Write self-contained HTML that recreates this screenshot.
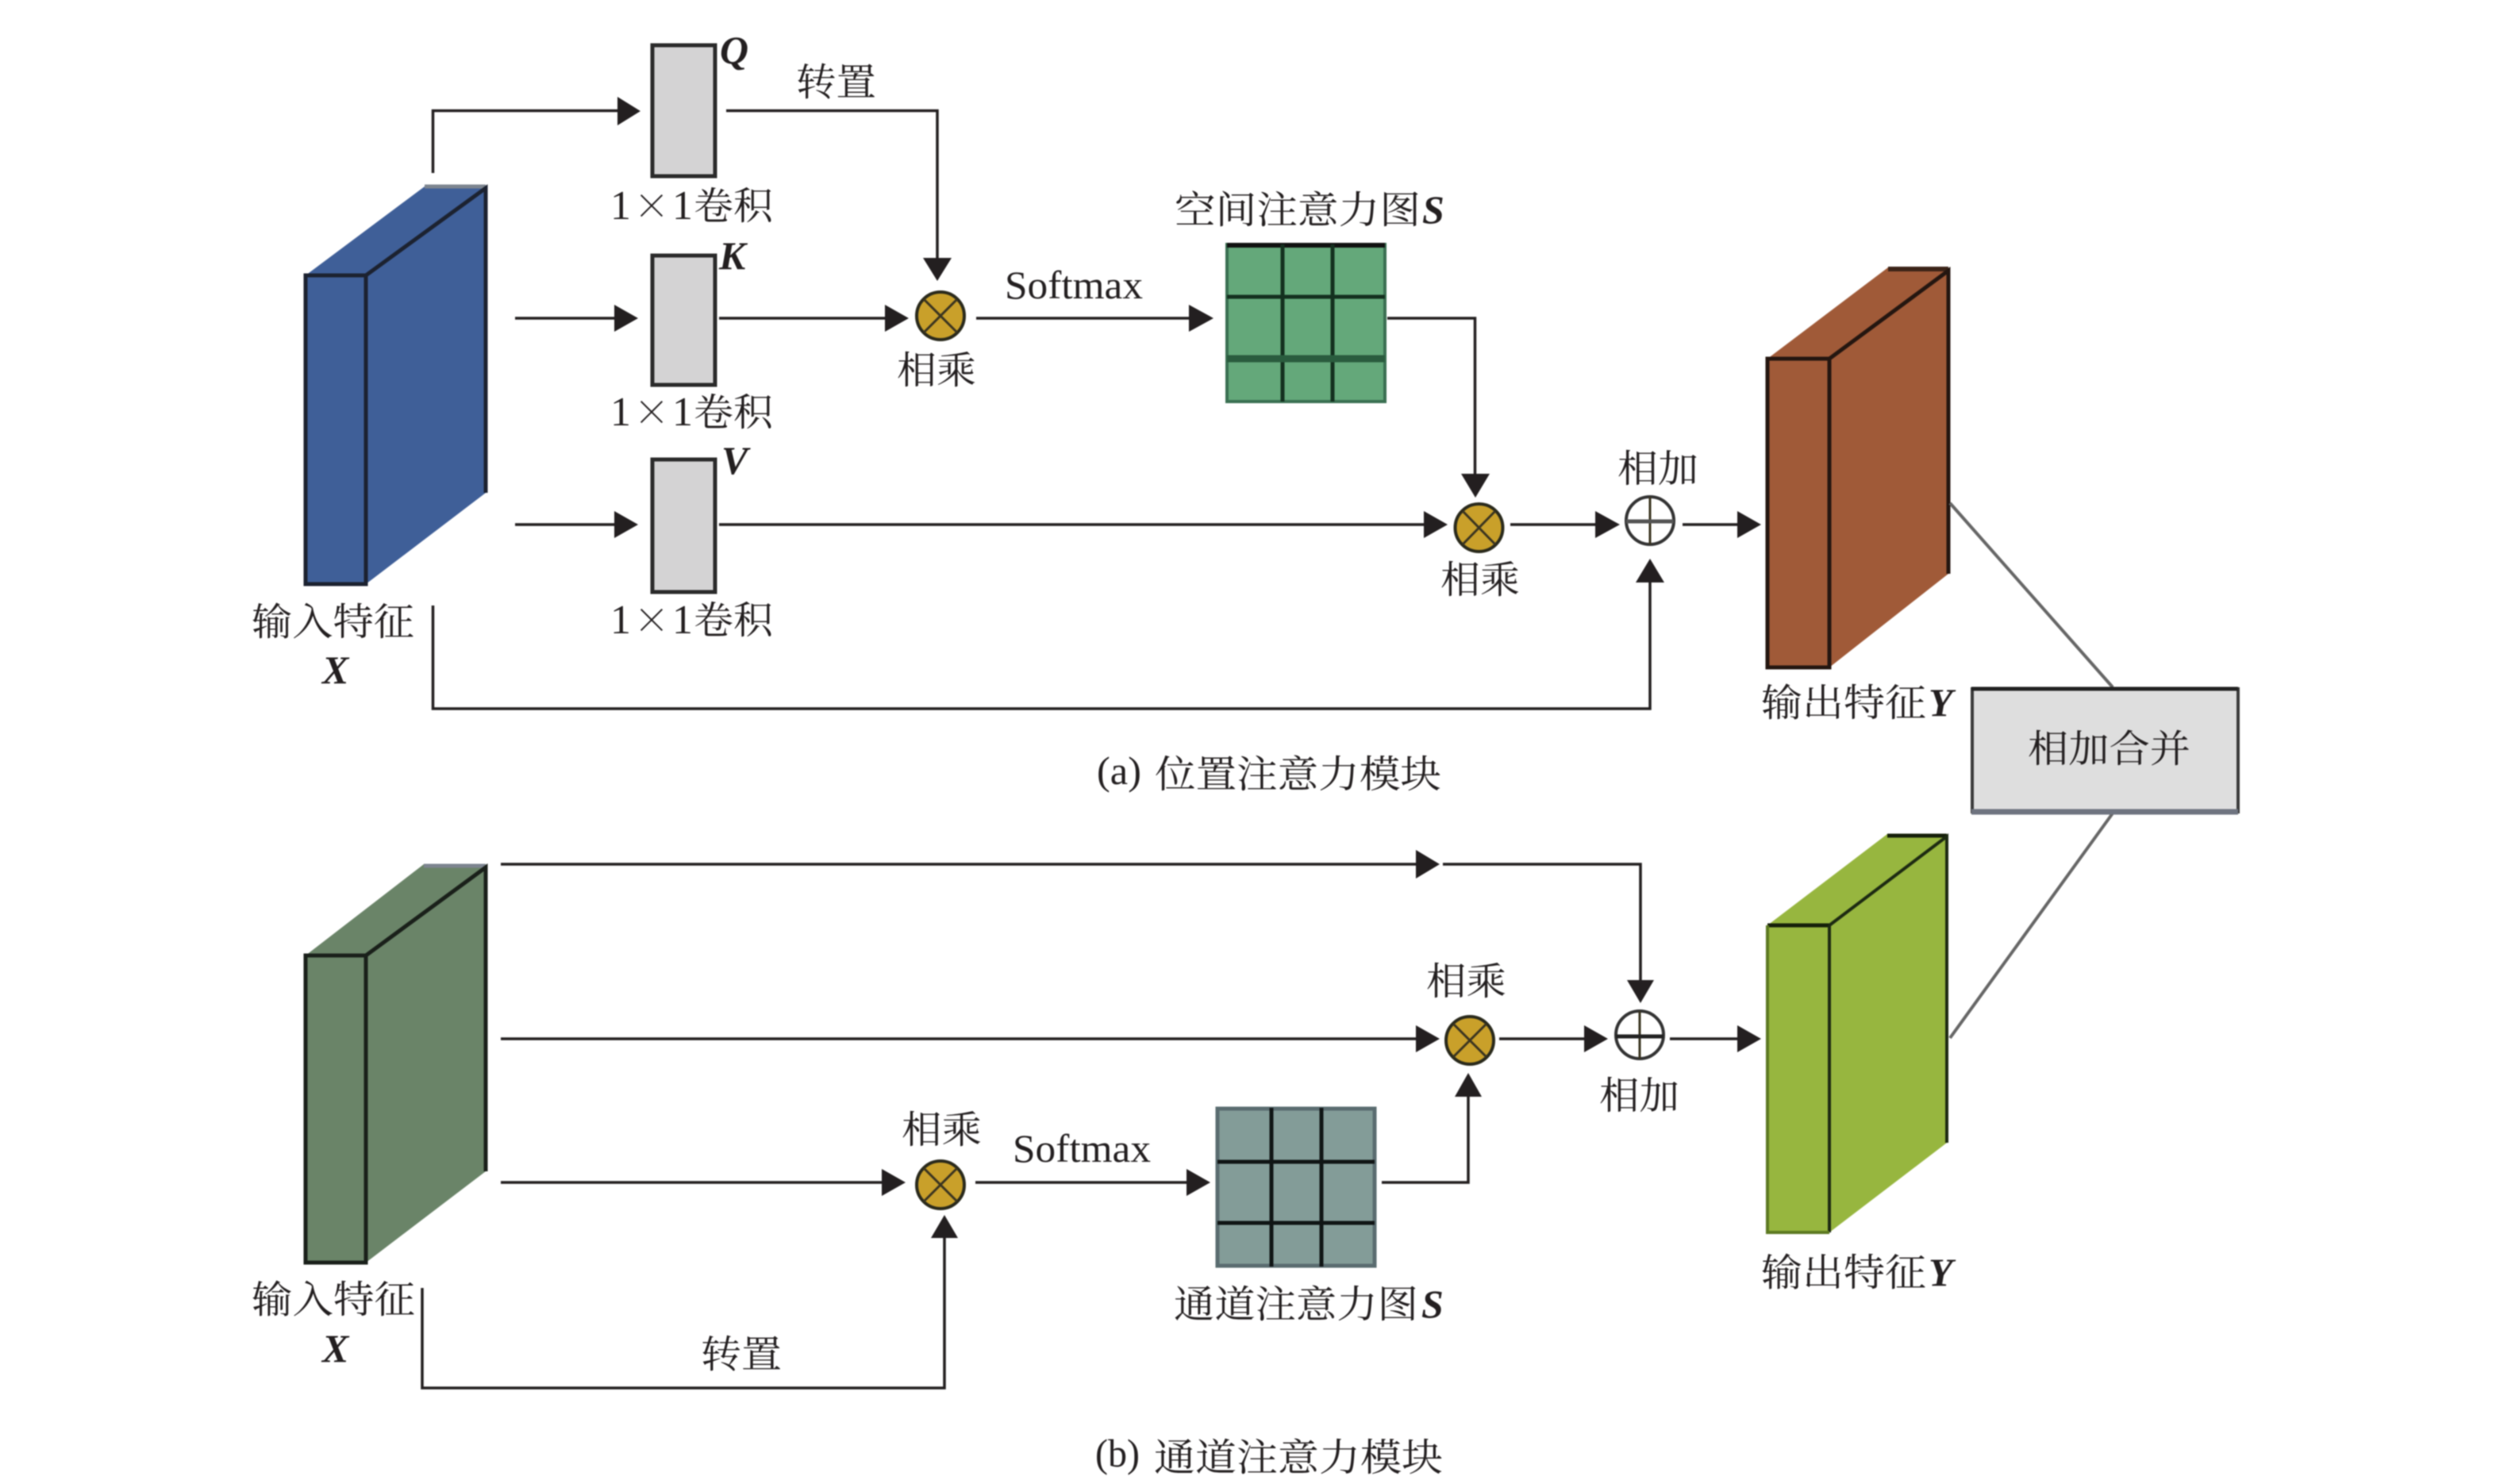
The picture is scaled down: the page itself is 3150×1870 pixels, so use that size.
<!DOCTYPE html>
<html lang="zh">
<head>
<meta charset="utf-8">
<title>注意力模块</title>
<style>
html,body{margin:0;padding:0;background:#fff;width:3150px;height:1870px;overflow:hidden}
svg{display:block;filter:blur(0.7px)}
text{font-family:"Liberation Serif","Noto Serif CJK SC",serif;font-size:48px;fill:#231f20}
.v{font-weight:bold;font-style:italic;font-size:50px}
.c{font-family:"Noto Serif CJK SC",serif;font-size:46px;text-anchor:middle}
.n{font-size:52px}
.l{fill:none;stroke:#231f20;stroke-width:3.5}
.a{fill:#231f20;stroke:none}
.g{fill:#d4d3d4;stroke:#2b2b2b;stroke-width:5}
.m{fill:#c9a02a;stroke:#2a2a1c;stroke-width:4}
.x{stroke:#3a3420;stroke-width:3;fill:none}
.p{fill:#fff;stroke:#333;stroke-width:4}
.d{stroke:#1c2230;stroke-width:5;fill:none}
</style>
</head>
<body>
<svg xmlns="http://www.w3.org/2000/svg" width="3150" height="1870" viewBox="0 0 3150 1870">
<rect width="3150" height="1870" fill="#fff"/>

<!-- Blue box -->
<polygon fill="#3f5f98" points="385,347 535,235 612,235 612,621 461,736 385,736"/>
<path d="M535,235H612" stroke="#7d8590" stroke-width="5"/>
<path class="d" d="M385,347H461V736H385ZM461,347L612,237V621"/>
<!-- Q K V -->
<rect class="g" x="822" y="57" width="79" height="165"/>
<rect class="g" x="822" y="322" width="79" height="163"/>
<rect class="g" x="822" y="579" width="79" height="167"/>

<!-- Module a connectors -->
<path class="l" d="M545.5,218V139.5H780"/>
<polygon class="a" points="778,122 807,140 778,158"/>
<path class="l" d="M915,139.5H1181V328"/>
<polygon class="a" points="1163,325 1199,325 1181,354"/>
<path class="l" d="M649,401H776"/>
<polygon class="a" points="774,384 804,401 774,418"/>
<path class="l" d="M906,401H1117"/>
<polygon class="a" points="1115,384 1145,401 1115,418"/>
<ellipse class="m" cx="1185" cy="398" rx="30" ry="30"/>
<path class="x" d="M1164,377L1206,419M1206,377L1164,419"/>
<path class="l" d="M1230,401H1500"/>
<polygon class="a" points="1498,384 1529,401 1498,418"/>

<!-- Green grid -->
<rect x="1546" y="308" width="199" height="198" fill="#64a87a" stroke="#3a7052" stroke-width="4"/>
<path d="M1546,309H1745" stroke="#111" stroke-width="6"/>
<path d="M1546,374H1745M1616,308V506M1679,308V506" stroke="#14301f" stroke-width="5"/>
<path d="M1546,452H1745" stroke="#2a5c3e" stroke-width="9"/>
<path class="l" d="M1748,401H1858.5V600"/>
<polygon class="a" points="1841,597 1877,597 1859,627"/>
<path class="l" d="M649,661H776"/>
<polygon class="a" points="774,644 804,661 774,678"/>
<path class="l" d="M906,661H1796"/>
<polygon class="a" points="1794,644 1824,661 1794,678"/>
<ellipse class="m" cx="1863.5" cy="665" rx="30" ry="30"/>
<path class="x" d="M1843,644L1884,686M1884,644L1843,686"/>
<path class="l" d="M1903,661H2012"/>
<polygon class="a" points="2010,644 2041,661 2010,678"/>
<ellipse class="p" cx="2079" cy="656" rx="30" ry="30"/>
<path class="x" d="M2079,626V686"/>
<path d="M2049,657H2109" stroke="#555" stroke-width="5"/>
<path class="l" d="M2120,661H2191"/>
<polygon class="a" points="2189,644 2219,661 2189,678"/>
<path class="l" d="M545.5,763V893H2079V732"/>
<polygon class="a" points="2061,734 2097,734 2079,704"/>

<!-- Brown box -->
<polygon fill="#a05a38" points="2227,452 2379,337 2455,337 2455,723 2305,841 2227,841"/>
<path d="M2379,339H2455" stroke="#3c2418" stroke-width="6"/>
<path d="M2227,452H2305V841H2227ZM2305,452L2455,341V723" stroke="#241610" stroke-width="5" fill="none"/>

<!-- Merge -->
<path d="M2457,634L2662,866M2457,1308L2664,1022" stroke="#666" stroke-width="4" fill="none"/>
<rect x="2485" y="868" width="335" height="155" fill="#dedede" stroke="#3a3a3a" stroke-width="4"/>
<path d="M2484,868H2820" stroke="#222" stroke-width="5"/>
<path d="M2484,1023H2820" stroke="#6f7480" stroke-width="7"/>

<!-- Module b: dark green box -->
<polygon fill="#6a8468" points="385,1204 534,1089 612,1089 612,1476 461,1591 385,1591"/>
<path d="M534,1091H612" stroke="#7d8590" stroke-width="5"/>
<path d="M385,1204H461V1591H385ZM461,1204L612,1093V1476" stroke="#1a201a" stroke-width="5" fill="none"/>
<path class="l" d="M631,1089H1786"/>
<polygon class="a" points="1784,1071 1814,1089 1784,1107"/>
<path class="l" d="M1818,1089H2067V1237"/>
<polygon class="a" points="2050,1235 2084,1235 2067,1264"/>
<path class="l" d="M631,1309H1786"/>
<polygon class="a" points="1784,1292 1814,1309 1784,1326"/>
<ellipse class="m" cx="1852" cy="1311" rx="30" ry="30"/>
<path class="x" d="M1831,1290L1873,1332M1873,1290L1831,1332"/>
<path class="l" d="M1889,1309H1998"/>
<polygon class="a" points="1996,1292 2026,1309 1996,1326"/>
<ellipse class="p" cx="2066" cy="1304" rx="30" ry="30"/>
<path class="x" d="M2066,1274V1334"/>
<path d="M2036,1306H2096" stroke="#222" stroke-width="5"/>
<path class="l" d="M2104,1309H2191"/>
<polygon class="a" points="2189,1292 2219,1309 2189,1326"/>
<path class="l" d="M631,1490H1113"/>
<polygon class="a" points="1111,1473 1141,1490 1111,1507"/>
<ellipse class="m" cx="1185" cy="1493" rx="30" ry="30"/>
<path class="x" d="M1164,1472L1206,1514M1206,1472L1164,1514"/>
<path class="l" d="M1229,1490H1497"/>
<polygon class="a" points="1495,1473 1525,1490 1495,1507"/>
<path class="l" d="M532,1623V1749H1190V1558"/>
<polygon class="a" points="1173,1560 1207,1560 1190,1531"/>

<!-- Slate grid -->
<rect x="1534" y="1397" width="198" height="198" fill="#839c98" stroke="#5a6c70" stroke-width="5"/>
<path d="M1534,1464H1732M1534,1541H1732M1602,1396V1596M1665,1396V1596" stroke="#101515" stroke-width="5"/>
<path class="l" d="M1741,1490H1850V1380"/>
<polygon class="a" points="1833,1382 1867,1382 1850,1352"/>

<!-- Yellow-green box -->
<polygon fill="#97b63f" points="2227,1166 2378,1051 2453,1051 2453,1440 2305,1553 2227,1553"/>
<path d="M2227,1166H2305M2378,1053H2453" stroke="#16200a" stroke-width="5" fill="none"/>
<path d="M2305,1166V1553M2305,1166L2453,1054V1440" stroke="#1d2a12" stroke-width="4" fill="none"/>
<path d="M2227,1166V1553H2305" stroke="#5d7a22" stroke-width="4" fill="none"/>

<!-- Labels module a -->
<text x="1003" y="120" textLength="101" lengthAdjust="spacingAndGlyphs">转置</text>
<text class="v" x="907" y="80">Q</text>
<text class="v" x="906" y="339">K</text>
<text class="v" x="909" y="597">V</text>

<text class="n" x="769" y="276">1</text><text class="c" x="821" y="276">×</text><text class="n" x="847" y="276">1</text><text x="874" y="276" textLength="100" lengthAdjust="spacingAndGlyphs">卷积</text>
<text class="n" x="769" y="536">1</text><text class="c" x="821" y="536">×</text><text class="n" x="847" y="536">1</text><text x="874" y="536" textLength="100" lengthAdjust="spacingAndGlyphs">卷积</text>
<text class="n" x="769" y="798">1</text><text class="c" x="821" y="798">×</text><text class="n" x="847" y="798">1</text><text x="874" y="798" textLength="100" lengthAdjust="spacingAndGlyphs">卷积</text>

<text x="1130" y="483" textLength="100" lengthAdjust="spacingAndGlyphs">相乘</text>
<text x="317" y="800" textLength="205" lengthAdjust="spacingAndGlyphs">输入特征</text>
<text class="v" x="406" y="861">X</text>
<text x="1266" y="376" textLength="174" lengthAdjust="spacingAndGlyphs" style="font-size:50px">Softmax</text>
<text x="1480" y="281" textLength="310" lengthAdjust="spacingAndGlyphs">空间注意力图</text>
<text class="v" x="1792" y="281">S</text>
<text x="2038" y="607" textLength="102" lengthAdjust="spacingAndGlyphs">相加</text>
<text x="1815" y="747" textLength="100" lengthAdjust="spacingAndGlyphs">相乘</text>
<text x="2219" y="902" textLength="208" lengthAdjust="spacingAndGlyphs">输出特征</text>
<text class="v" x="2430" y="902">Y</text>
<text x="1382" y="988" textLength="56" lengthAdjust="spacingAndGlyphs" style="font-size:50px">(a)</text>
<text x="1455" y="992" textLength="361" lengthAdjust="spacingAndGlyphs">位置注意力模块</text>
<text x="2555" y="960" textLength="205" lengthAdjust="spacingAndGlyphs">相加合并</text>

<!-- Labels module b -->
<text x="1136" y="1440" textLength="101" lengthAdjust="spacingAndGlyphs">相乘</text>
<text x="1276" y="1464" textLength="174" lengthAdjust="spacingAndGlyphs" style="font-size:50px">Softmax</text>
<text x="317" y="1654" textLength="206" lengthAdjust="spacingAndGlyphs">输入特征</text>
<text class="v" x="406" y="1716">X</text>
<text x="883" y="1723" textLength="102" lengthAdjust="spacingAndGlyphs">转置</text>
<text x="1380" y="1848" textLength="56" lengthAdjust="spacingAndGlyphs" style="font-size:50px">(b)</text>
<text x="1454" y="1853" textLength="364" lengthAdjust="spacingAndGlyphs">通道注意力模块</text>
<text x="1479" y="1660" textLength="308" lengthAdjust="spacingAndGlyphs">通道注意力图</text>
<text class="v" x="1791" y="1660">S</text>
<text x="1797" y="1253" textLength="101" lengthAdjust="spacingAndGlyphs">相乘</text>
<text x="2015" y="1397" textLength="101" lengthAdjust="spacingAndGlyphs">相加</text>
<text x="2219" y="1620" textLength="208" lengthAdjust="spacingAndGlyphs">输出特征</text>
<text class="v" x="2430" y="1620">Y</text>
</svg>
</body>
</html>
